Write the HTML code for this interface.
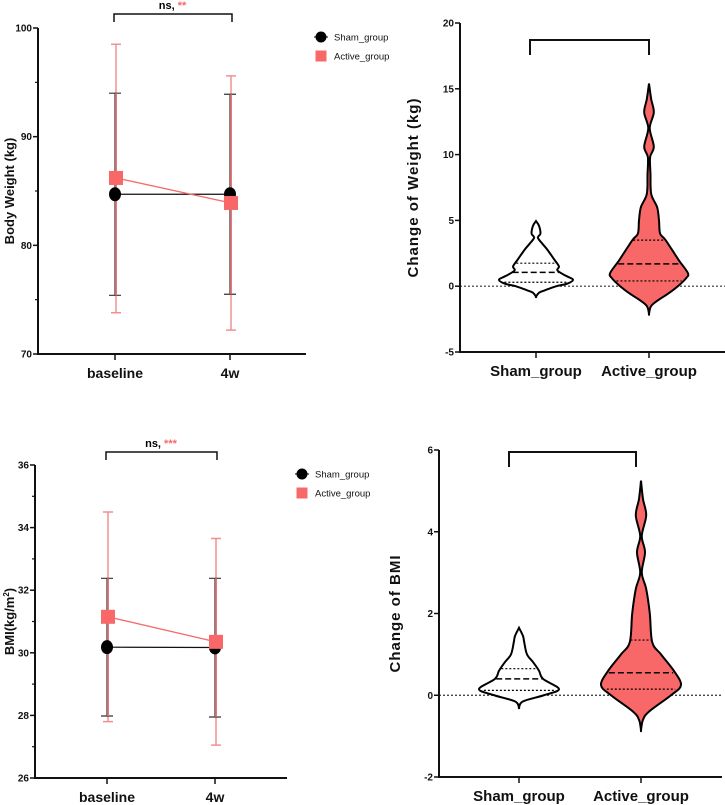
<!DOCTYPE html>
<html><head><meta charset="utf-8">
<style>
body{margin:0;background:#fff;}
svg{display:block;font-family:"Liberation Sans",sans-serif;}
.tk{font-size:10px;font-weight:bold;fill:#111;}
.cat{font-size:14px;font-weight:bold;fill:#111;}
.yt{font-size:13px;font-weight:bold;fill:#111;}
.lg{font-size:9.5px;fill:#111;}
</style></head>
<body>
<svg id="c" width="725" height="805" viewBox="0 0 725 805"></svg>
<script>
// ---------- data ----------
const timeCats = ["baseline","4w"];
const weightSham = [84.7, 84.7];
const weightShamLo = [75.4, 75.5];
const weightShamHi = [94.0, 93.9];
const weightActive = [86.2, 83.9];
const weightActiveLo = [73.8, 72.2];
const weightActiveHi = [98.5, 95.6];
const weightTicks = [70, 80, 90, 100];

const bmiSham = [30.18, 30.17];
const bmiShamLo = [27.98, 27.95];
const bmiShamHi = [32.38, 32.38];
const bmiActive = [31.15, 30.35];
const bmiActiveLo = [27.8, 27.05];
const bmiActiveHi = [34.5, 33.65];
const bmiTicks = [26, 28, 30, 32, 34, 36];

const groupCats = ["Sham_group","Active_group"];
// violin profiles: values and relative densities (0..1)
const dwShamV = [4.95,4.6,4.0,3.7,3.3,2.8,2.0,1.5,1.2,0.8,0.5,0.2,0,-0.3,-0.5,-0.8];
const dwShamD = [0,0.08,0.12,0.05,0.15,0.3,0.5,0.62,0.58,0.8,1.0,0.85,0.55,0.25,0.08,0];
const dwShamQ = [0.3, 1.05, 1.75];
const dwActV = [15.4,14.2,13.2,12.0,10.6,9.8,8.5,7.0,6.0,5.0,4.0,3.5,2.0,1.0,0.6,0,-0.6,-1.0,-1.5,-2.1];
const dwActD = [0,0.06,0.13,0.02,0.13,0.03,0.04,0.06,0.22,0.27,0.3,0.45,0.8,1.05,1.0,0.78,0.5,0.28,0.06,0];
const dwActQ = [0.4, 1.7, 3.5];
const dwTicks = [-5, 0, 5, 10, 15, 20];

const dbShamV = [1.65,1.45,1.3,1.0,0.8,0.6,0.4,0.15,0,-0.15,-0.3];
const dbShamD = [0,0.1,0.13,0.2,0.36,0.5,0.6,1.0,0.62,0.1,0];
const dbShamQ = [0.12, 0.4, 0.65];
const dbActV = [5.25,4.8,4.4,3.9,3.5,3.0,2.6,2.0,1.3,1.0,0.6,0.25,0,-0.4,-0.6,-0.85];
const dbActD = [0,0.05,0.13,0.02,0.1,0.02,0.13,0.22,0.28,0.5,0.82,1.0,0.75,0.2,0.05,0];
const dbActQ = [0.15, 0.55, 1.35];
const dbTicks = [-2, 0, 2, 4, 6];

// ---------- helpers ----------
const svg = document.getElementById('c');
const NS = "http://www.w3.org/2000/svg";
function mk(tag, attrs, parent){
  const e = document.createElementNS(NS, tag);
  for (const k in attrs) e.setAttribute(k, attrs[k]);
  (parent||svg).appendChild(e);
  return e;
}
function lin(d0,d1,r0,r1){return v=>r0+(v-d0)*(r1-r0)/(d1-d0);}

function lineChart(o){
  const g = mk('g',{});
  
  
  const y = lin(o.ticks[0], o.ticks[o.ticks.length-1], o.yB, o.yT);
  const x = i => o.xs[i];
  const ax = mk('path',{d:`M${o.ax},${o.yT} V${o.yB} H${o.axEnd}`,stroke:'#111','stroke-width':2,fill:'none'},g);
  
  
  o.ticks.forEach((t,i)=>{
    mk('line',{x1:o.ax-5,x2:o.ax,y1:y(t),y2:y(t),stroke:'#111','stroke-width':1.5},g);
    if(i<o.ticks.length-1){const m=(t+o.ticks[i+1])/2;mk('line',{x1:o.ax-3,x2:o.ax,y1:y(m),y2:y(m),stroke:'#111','stroke-width':1.2},g);}
    const tl = mk('text',{x:o.ax-6,y:y(t)+3.5,'text-anchor':'end',class:'tk'},g);
    tl.textContent=t;
    
    
  });
  o.cats.forEach((c,i)=>{
    mk('line',{x1:x(i),x2:x(i),y1:o.yB,y2:o.yB+6,stroke:'#111','stroke-width':1.5},g);
    const t = mk('text',{x:x(i),y:o.yB+24,'text-anchor':'middle',class:'cat'},g);
    t.textContent=c;
    
    
  });
  o.aV.forEach((v,i)=>{
    const xi=x(i)+1;
    const e=mk('path',{d:`M${xi},${y(o.aLo[i])} V${y(o.aHi[i])} M${xi-5},${y(o.aLo[i])} h10 M${xi-5},${y(o.aHi[i])} h10`,stroke:'#f29090','stroke-width':1.5,fill:'none'},g);
    
    
  });
  o.sV.forEach((v,i)=>{
    const xi=x(i);
    const e=mk('path',{d:`M${xi},${y(o.sLo[i])} V${y(o.sHi[i])} M${xi-6},${y(o.sLo[i])} h12 M${xi-6},${y(o.sHi[i])} h12`,stroke:'#333','stroke-width':1.2,fill:'none'},g);
    
    
  });
  o.aV.forEach((v,i)=>{
    mk('line',{x1:x(i)+1,x2:x(i)+1,y1:y(o.sLo[i]),y2:y(o.sHi[i]),stroke:'#e07070','stroke-width':1.8},g);
  });
  const sl=mk('polyline',{points:o.sV.map((v,i)=>x(i)+','+y(v)).join(' '),stroke:'#111','stroke-width':1.2,fill:'none'},g);
  
  
  o.sV.forEach((v,i)=>{
    const p=mk('ellipse',{cx:x(i),cy:y(v),rx:6,ry:7,fill:'#000'},g);
    
    
  });
  const al=mk('polyline',{points:o.aV.map((v,i)=>(x(i)+1)+','+y(v)).join(' '),stroke:'#f56a6a','stroke-width':1.3,fill:'none'},g);
  
  
  o.aV.forEach((v,i)=>{
    const p=mk('rect',{x:x(i)+1-7,y:y(v)-7,width:14,height:14,fill:'#f86868'},g);
    
    
  });
  const b=mk('path',{d:`M${o.xs[0]-1},${o.brY+8} V${o.brY} H${o.xs[1]+2} V${o.brY+8}`,stroke:'#111','stroke-width':1.5,fill:'none'},g);
  
  
  const st=mk('text',{x:(o.xs[0]+o.xs[1])/2,y:o.brY-5,'text-anchor':'middle',style:'font-size:11px;font-weight:bold'},g);
  st.innerHTML='ns, <tspan fill="#f86868">'+o.stars+'</tspan>';
  
  
  const yt=mk('text',{x:0,y:0,transform:`translate(${o.titleX},${(o.yT+o.yB)/2}) rotate(-90)`,'text-anchor':'middle',class:'yt'},g);
  yt.innerHTML=o.title;
  
  
  const lg=mk('g',{},g);
  
  
  mk('circle',{cx:o.lgX,cy:o.lgY,r:5.5,fill:'#000'},lg);
  mk('line',{x1:o.lgX-7,x2:o.lgX+7,y1:o.lgY,y2:o.lgY,stroke:'#000'},lg);
  mk('rect',{x:o.lgX-5.5,y:o.lgY+13.5,width:11,height:11,fill:'#f86868'},lg);
  const l1=mk('text',{x:o.lgX+13,y:o.lgY+3.5,class:'lg'},lg);l1.textContent='Sham_group';
  
  
  const l2=mk('text',{x:o.lgX+13,y:o.lgY+22.5,class:'lg'},lg);l2.textContent='Active_group';
  
  
}

function violinChart(o){
  const g = mk('g',{});
  
  
  const y = lin(o.ticks[0], o.ticks[o.ticks.length-1], o.yB, o.yT);
  const z=mk('line',{x1:o.ax,x2:o.axEnd,y1:y(0),y2:y(0),stroke:'#333','stroke-width':1.2,'stroke-dasharray':'2,2'},g);
  
  
  o.groups.forEach((gr,gi)=>{
    const cx=o.xs[gi];
    const W=o.maxW;
    const right=gr.v.map((v,i)=>[cx+gr.d[i]*W,y(v)]);
    const left=gr.v.map((v,i)=>[cx-gr.d[i]*W,y(v)]).reverse();
    const pts=right.concat(left);
    let d=`M${pts[0][0]},${pts[0][1]}`;
    for(let i=0;i<pts.length-1;i++){
      const p0=pts[Math.max(0,i-1)],p1=pts[i],p2=pts[i+1],p3=pts[Math.min(pts.length-1,i+2)];
      d+=` C${p1[0]+(p2[0]-p0[0])/6},${p1[1]+(p2[1]-p0[1])/6} ${p2[0]-(p3[0]-p1[0])/6},${p2[1]-(p3[1]-p1[1])/6} ${p2[0]},${p2[1]}`;
    }
    d+='Z';
    const vp=mk('path',{d:d,fill:gr.fill,stroke:'#000','stroke-width':2},g);
    
    
    gr.q.forEach((q,qi)=>{
      let w=0;
      for(let i=0;i<gr.v.length-1;i++){
        const a=gr.v[i],b=gr.v[i+1];
        if((q<=a&&q>=b)){w=gr.d[i]+(gr.d[i+1]-gr.d[i])*(a-q)/(a-b);break;}
      }
      const hw=w*W*0.95;
      const ql=mk('line',{x1:cx-hw,x2:cx+hw,y1:y(q),y2:y(q),stroke:'#000','stroke-width':qi==1?1.5:1.2,'stroke-dasharray':qi==1?'6,3':'2,2'},g);
      
      
    });
  });
  const ax=mk('path',{d:`M${o.ax},${o.yT} V${o.yB} H${o.axEnd}`,stroke:'#111','stroke-width':2,fill:'none'},g);
  
  
  o.ticks.forEach(t=>{
    mk('line',{x1:o.ax-5,x2:o.ax,y1:y(t),y2:y(t),stroke:'#111','stroke-width':1.5},g);
    const tl=mk('text',{x:o.ax-6,y:y(t)+3.5,'text-anchor':'end',class:'tk'},g);
    tl.textContent=t;
    
    
  });
  o.cats.forEach((c,i)=>{
    mk('line',{x1:o.xs[i],x2:o.xs[i],y1:o.yB,y2:o.yB+6,stroke:'#111','stroke-width':1.5},g);
    const t=mk('text',{x:o.xs[i],y:o.yB+24,'text-anchor':'middle',class:'cat',style:'font-size:15px'},g);
    t.textContent=c;
    
    
  });
  const b=mk('path',{d:`M${o.brX0},${o.brY+15} V${o.brY} H${o.brX1} V${o.brY+15}`,stroke:'#111','stroke-width':2,fill:'none'},g);
  
  
  const yt=mk('text',{x:0,y:0,transform:`translate(${o.titleX},${(o.yT+o.yB)/2}) rotate(-90)`,'text-anchor':'middle',class:'yt',style:'letter-spacing:1px;font-size:15px'},g);
  yt.textContent=o.title;
  
  
}

lineChart({name:'body-weight-chart',cats:timeCats,xs:[115,230],ax:38,axEnd:306,yT:28,yB:354,ticks:weightTicks,
  sV:weightSham,sLo:weightShamLo,sHi:weightShamHi,aV:weightActive,aLo:weightActiveLo,aHi:weightActiveHi,
  brY:14,stars:'**',title:'Body Weight (kg)',titleX:14,lgX:321,lgY:37});
lineChart({name:'bmi-chart',cats:timeCats,xs:[107,215],ax:35,axEnd:287,yT:465,yB:778,ticks:bmiTicks,
  sV:bmiSham,sLo:bmiShamLo,sHi:bmiShamHi,aV:bmiActive,aLo:bmiActiveLo,aHi:bmiActiveHi,
  brY:452,stars:'***',title:'BMI(kg/m<tspan dy="-5" font-size="8">2</tspan><tspan dy="5">)</tspan>',titleX:14,lgX:302,lgY:474});

violinChart({name:'weight-change-violin-chart',cats:groupCats,xs:[536,649],ax:460,axEnd:725,yT:23,yB:352,ticks:dwTicks,maxW:37,
  groups:[{key:'sham',v:dwShamV,d:dwShamD,q:dwShamQ,fill:'#fff'},{key:'active',v:dwActV,d:dwActD,q:dwActQ,fill:'#f86868'}],
  brX0:530,brX1:649,brY:40,title:'Change of Weight (kg)',titleX:418});
violinChart({name:'bmi-change-violin-chart',cats:groupCats,xs:[519,641],ax:439,axEnd:722,yT:450,yB:777,ticks:dbTicks,maxW:40,
  groups:[{key:'sham',v:dbShamV,d:dbShamD,q:dbShamQ,fill:'#fff'},{key:'active',v:dbActV,d:dbActD,q:dbActQ,fill:'#f86868'}],
  brX0:509,brX1:636,brY:452,title:'Change of BMI',titleX:400});
</script>
</body></html>
